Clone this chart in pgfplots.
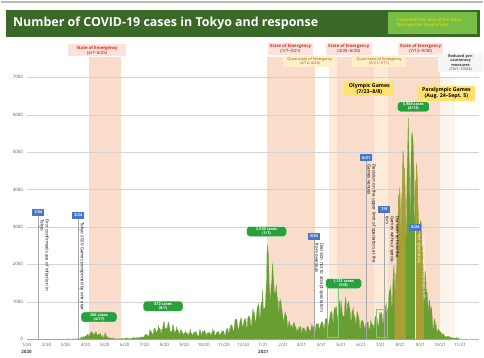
\documentclass[border=0pt]{standalone}
\usepackage{pgfplots}
\pgfplotsset{compat=1.18}
\usepackage{pgfplotstable}
\usepackage{fontspec}
\setmainfont{Open Sans}
\definecolor{bannergreen}{RGB}{58,104,38}
\definecolor{boxgreen}{RGB}{120,190,70}
\definecolor{barg}{RGB}{104,158,50}
\definecolor{olivec}{RGB}{168,160,52}
\definecolor{soe}{RGB}{250,220,202}
\definecolor{quasi}{RGB}{253,234,216}
\definecolor{reduced}{RGB}{250,245,235}
\definecolor{soelab}{RGB}{252,226,218}
\definecolor{quasilab}{RGB}{255,240,200}
\definecolor{olylab}{RGB}{255,226,110}
\definecolor{cred}{RGB}{220,40,30}
\definecolor{corange}{RGB}{210,120,30}
\definecolor{cblue}{RGB}{70,120,200}
\definecolor{labgreen}{RGB}{40,160,60}
\pgfplotstableread[row sep=\\]{
y\\
0\\0\\0\\0\\0\\0\\0\\0\\0\\0\\0\\0\\0\\0\\0\\0\\0\\0\\0\\0\\0\\0\\0\\1\\1\\0\\0\\0\\1\\0\\1\\
0\\0\\0\\0\\0\\0\\0\\0\\0\\0\\0\\0\\1\\2\\2\\3\\0\\3\\3\\1\\3\\3\\1\\1\\1\\0\\3\\1\\0\\
2\\3\\1\\4\\8\\6\\3\\4\\0\\2\\2\\6\\4\\3\\1\\2\\7\\4\\8\\11\\7\\2\\16\\17\\41\\47\\40\\63\\68\\13\\78\\
66\\97\\89\\118\\143\\83\\79\\144\\181\\189\\197\\166\\91\\161\\127\\149\\206\\181\\107\\102\\123\\132\\134\\161\\103\\72\\39\\112\\47\\46\\
165\\154\\91\\87\\58\\38\\23\\39\\36\\22\\15\\28\\10\\30\\9\\11\\5\\10\\5\\5\\11\\3\\2\\14\\8\\10\\11\\15\\22\\14\\5\\
13\\34\\12\\28\\20\\26\\14\\13\\12\\18\\22\\25\\24\\47\\48\\27\\16\\41\\35\\39\\35\\29\\31\\55\\48\\54\\57\\60\\58\\54\\
67\\107\\124\\131\\111\\102\\75\\75\\224\\243\\206\\206\\119\\143\\165\\286\\293\\290\\188\\168\\237\\238\\366\\260\\295\\239\\131\\266\\250\\367\\463\\
472\\292\\258\\309\\263\\360\\462\\429\\331\\197\\188\\222\\206\\389\\385\\260\\161\\207\\186\\339\\258\\248\\212\\95\\182\\236\\250\\226\\148\\160\\100\\
170\\141\\211\\140\\181\\116\\78\\170\\149\\276\\187\\146\\146\\82\\163\\191\\171\\167\\218\\160\\98\\88\\59\\195\\270\\195\\164\\78\\212\\194\\
196\\235\\207\\143\\59\\177\\142\\170\\186\\165\\146\\78\\166\\177\\284\\185\\235\\132\\78\\139\\185\\186\\186\\215\\124\\102\\158\\171\\221\\218\\215\\
209\\87\\122\\178\\269\\242\\294\\189\\157\\293\\317\\393\\374\\352\\255\\180\\298\\493\\534\\522\\539\\391\\314\\186\\401\\481\\570\\561\\418\\311\\
372\\500\\533\\449\\584\\327\\299\\572\\602\\595\\621\\480\\305\\460\\678\\822\\664\\736\\556\\392\\563\\748\\888\\884\\949\\708\\480\\856\\1000\\944\\1337\\
783\\814\\816\\884\\1278\\1591\\2520\\2392\\2268\\1494\\1219\\970\\1433\\1502\\2044\\1809\\1592\\1204\\1240\\1274\\1471\\1175\\1070\\986\\618\\1026\\973\\1064\\868\\769\\633\\
393\\556\\676\\734\\577\\639\\429\\276\\412\\491\\434\\307\\369\\371\\266\\378\\445\\445\\353\\327\\272\\178\\275\\213\\340\\270\\337\\329\\
121\\232\\316\\279\\301\\237\\237\\116\\290\\340\\335\\304\\239\\239\\175\\300\\409\\323\\303\\342\\256\\187\\337\\420\\394\\376\\430\\313\\234\\364\\414\\
475\\440\\446\\355\\249\\399\\555\\545\\537\\570\\421\\306\\510\\591\\729\\667\\759\\543\\405\\711\\843\\861\\759\\876\\635\\425\\828\\925\\1027\\698\\
1050\\879\\708\\609\\621\\591\\907\\1121\\1032\\573\\925\\969\\1010\\854\\772\\542\\419\\732\\766\\843\\614\\629\\535\\340\\557\\743\\684\\614\\539\\309\\258\\
471\\487\\508\\472\\436\\351\\235\\369\\440\\440\\436\\467\\304\\209\\337\\501\\452\\388\\388\\376\\236\\435\\619\\570\\562\\534\\386\\317\\476\\714\\
673\\660\\716\\518\\342\\593\\920\\896\\822\\950\\614\\502\\830\\1149\\1308\\1271\\1410\\1008\\727\\1387\\1832\\1979\\1359\\1128\\1763\\1429\\2848\\3177\\3865\\3300\\4058\\
3058\\2195\\3709\\4166\\5042\\4515\\4566\\4066\\2884\\2612\\4200\\4989\\5908\\5094\\4295\\2962\\4377\\5386\\5534\\5405\\5074\\4392\\2447\\4220\\4228\\4704\\4227\\3581\\3081\\1915\\2909\\
3168\\3099\\2539\\2362\\1853\\968\\1629\\1834\\1675\\1242\\1273\\1067\\611\\1004\\1052\\831\\782\\862\\616\\302\\253\\537\\531\\382\\382\\248\\154\\267\\267\\218\\
200\\196\\161\\87\\149\\144\\138\\82\\74\\60\\49\\77\\77\\62\\72\\66\\40\\29\\36\\41\\36\\26\\32\\19\\17\\41\\36\\21\\23\\30\\22\\
}\covid
\begin{document}
\begin{tikzpicture}[
  soebox/.style={fill=soelab, inner sep=1.5pt, align=center, font=\fontsize{4.3}{5}\selectfont, text=red!50!black},
  quasibox/.style={fill=quasilab, inner sep=1.5pt, align=center, font=\fontsize{3.8}{4.5}\selectfont, text=corange!70!black},
  greenlab/.style={fill=labgreen, draw=white, line width=0.4pt, rounded corners=3bp, text=white, align=center, font=\fontsize{3.8}{4.3}\selectfont\bfseries, inner sep=1.3pt, minimum width=36bp},
  bluebox/.style={fill=cblue, text=white, font=\fontsize{3.8}{4}\selectfont\bfseries, inner sep=1.2pt, minimum width=12bp, minimum height=7bp},
  vtext/.style={rotate=-90, anchor=south west, font=\fontsize{4.4}{5}\selectfont, align=left, inner sep=0.8pt},
  olybox/.style={fill=olylab, inner sep=1.8pt, align=center, font=\fontsize{5.3}{6.2}\selectfont\bfseries, text=black}
]
\path (0,0) rectangle (484bp,358bp);
\draw[gray!55, line width=1.2pt] (0,356bp) -- (484bp,356bp);
\fill[bannergreen] (5bp,321bp) rectangle (481bp,348bp);
\node[anchor=west, text=white, font=\fontsize{12.5}{14}\selectfont\bfseries] at (9bp,334.5bp) {Number of COVID-19 cases in Tokyo and response};
\fill[boxgreen] (388bp,324bp) rectangle (478bp,346bp);
\node[align=left, text=yellow!85!orange, font=\fontsize{4.3}{5}\selectfont] at (430bp,335bp) {Compiled from data of the Tokyo\\Metropolitan Government};
\begin{axis}[
  at={(26bp,18bp)}, anchor=south west, scale only axis,
  width=454bp, height=300bp,
  xmin=0, xmax=700, ymin=0, ymax=8000, clip=false,
  set layers,
  axis x line=bottom, axis y line=left,
  y axis line style={draw=none}, x axis line style={draw=gray!60, -},
  ytick={0,1000,...,7000},
  ymajorgrids, grid style={gray!35, line width=0.4pt},
  major tick length=0pt,
  /pgf/number format/1000 sep={},
  /pgf/number format/assume math mode=true,
  scaled y ticks=false,
  yticklabel style={font=\fontsize{4.5}{5}\selectfont, text=gray!70!black},
  xtick={0,31,60,91,121,152,182,213,244,274,305,335,366,397,425,456,486,517,547,578,609,639,670},
  xticklabels={1/20,2/20,3/20,4/20,5/20,6/20,7/20,8/20,9/20,10/20,11/20,12/20,1/21,2/21,3/21,4/21,5/21,6/21,7/21,8/21,9/21,10/21,11/21},
  xticklabel style={font=\fontsize{4.5}{5}\selectfont, text=gray!70!black, yshift=-1bp},
]
\addplot[fill=soe, draw=none, on layer=axis background] coordinates {(97,0) (97,7550) (146,7550) (146,0)} -- cycle;
\addplot[fill=soe, draw=none, on layer=axis background] coordinates {(372,0) (372,7550) (446,7550) (446,0)} -- cycle;
\addplot[fill=quasi, draw=none, on layer=axis background] coordinates {(467,0) (467,7300) (480,7300) (480,0)} -- cycle;
\addplot[fill=soe, draw=none, on layer=axis background] coordinates {(480,0) (480,7550) (537,7550) (537,0)} -- cycle;
\addplot[fill=quasi, draw=none, on layer=axis background] coordinates {(537,0) (537,7300) (558,7300) (558,0)} -- cycle;
\addplot[fill=soe, draw=none, on layer=axis background] coordinates {(558,0) (558,7550) (639,7550) (639,0)} -- cycle;
\addplot[fill=reduced, draw=none, on layer=axis background] coordinates {(639,0) (639,7000) (663,7000) (663,0)} -- cycle;
\addplot[fill=barg, draw=barg, line width=0.15pt] table[x expr=\coordindex, y=y] {\covid} \closedcycle;
\addplot[fill=olivec, draw=olivec, line width=0.15pt, restrict x to domain=569:586] table[x expr=\coordindex, y=y] {\covid} \closedcycle;
\addplot[fill=olivec, draw=olivec, line width=0.15pt, restrict x to domain=601:614] table[x expr=\coordindex, y=y] {\covid} \closedcycle;
\draw[green!60!black!50, line width=0.4pt] (axis cs:464,60) rectangle (axis cs:481,1520);
\draw[green!60!black!50, line width=0.4pt] (axis cs:541,60) rectangle (axis cs:558,800);
\draw[gray!70, line width=0.4pt] (axis cs:18,0) -- (axis cs:18,3390);
\draw[gray!70, line width=0.4pt] (axis cs:80,0) -- (axis cs:80,3310);
\draw[gray!70, line width=0.4pt] (axis cs:444,0) -- (axis cs:444,2750);
\draw[gray!70, line width=0.4pt] (axis cs:525,0) -- (axis cs:525,4850);
\draw[gray!70, line width=0.4pt] (axis cs:553,0) -- (axis cs:553,3470);
\draw[white!80!gray, line width=0.4pt] (axis cs:601,0) -- (axis cs:601,2990);
\node[bluebox] at (axis cs:18,3390) {1/24};
\node[bluebox] at (axis cs:80,3310) {3/24};
\node[bluebox] at (axis cs:444,2750) {3/20};
\node[bluebox] at (axis cs:525,4850) {6/21};
\node[bluebox] at (axis cs:553,3470) {7/8};
\node[bluebox] at (axis cs:601,2990) {8/24};
\node[vtext, text width=72bp] at ([xshift=0.5bp,yshift=-6bp]axis cs:18,3390) {First confirmed case of infection in Tokyo};
\node[vtext, text width=92bp] at ([xshift=0.5bp,yshift=-6bp]axis cs:80,3310) {Tokyo 2020 Games postponed by one year};
\node[vtext, text width=80bp] at ([xshift=0.5bp,yshift=-6bp]axis cs:444,2750) {Decision not to accept spectators from overseas};
\node[vtext, text width=100bp] at ([xshift=0.5bp,yshift=-6bp]axis cs:525,4850) {Decision on the upper limit of spectators at the Games venues};
\node[vtext, text width=55bp] at ([xshift=0.5bp,yshift=-6bp]axis cs:553,3470) {Decision to hold the Games without spectators};
\node[vtext, text width=70bp, text=white] at ([xshift=0.5bp,yshift=-6bp]axis cs:601,2990) {Paralympic Games opened without spectators};
\node[greenlab] at (axis cs:112,590) {206 cases\\(4/17)};
\node[greenlab, minimum width=40bp] at (axis cs:211,880) {472 cases\\(8/1)};
\node[greenlab, minimum width=40bp] at (axis cs:371,2880) {2,520 cases\\(1/7)};
\node[greenlab] at (axis cs:490,1490) {1,121 cases\\(5/8)};
\node[greenlab, minimum width=32bp] at (axis cs:598,6213) {5,908 cases\\(8/13)};
\node[soebox, minimum width=58bp] at (axis cs:109,7720) {\textcolor{cred}{\bfseries State of Emergency}\\(4/7--5/25)};
\node[soebox, minimum width=46bp] at (axis cs:408,7760) {\textcolor{cred}{\bfseries State of Emergency}\\(1/7--3/21)};
\node[soebox, minimum width=46bp] at (axis cs:498,7760) {\textcolor{cred}{\bfseries State of Emergency}\\(4/25--6/20)};
\node[soebox, minimum width=46bp] at (axis cs:609,7760) {\textcolor{cred}{\bfseries State of Emergency}\\(7/12--9/30)};
\node[quasibox, minimum width=54bp] at (axis cs:438,7420) {Quasi-state of Emergency\\(4/12--4/24)};
\node[quasibox, minimum width=54bp] at (axis cs:545,7420) {Quasi-state of Emergency\\(6/21--7/11)};
\node[fill=white!92!gray, inner sep=1.3pt, align=center, font=\fontsize{3.8}{4.5}\selectfont, text=black!80, text width=42bp] at (axis cs:671,7390) {\textbf{Reduced precautionary}\\\textbf{measures}\\(10/1--10/24)};
\node[olybox, minimum width=50bp] at (axis cs:530,6690) {Olympic Games\\(7/23--8/8)};
\node[olybox, minimum width=58bp] at (axis cs:649,6580) {Paralympic Games\\(Aug. 24--Sept. 5)};
\node[font=\fontsize{4.5}{5}\selectfont\bfseries, text=black!75] at ([yshift=-13bp]axis cs:0,0) {2020};
\node[font=\fontsize{4.5}{5}\selectfont\bfseries, text=black!75] at ([yshift=-13bp]axis cs:366,0) {2021};
\end{axis}
\end{tikzpicture}
\end{document}
